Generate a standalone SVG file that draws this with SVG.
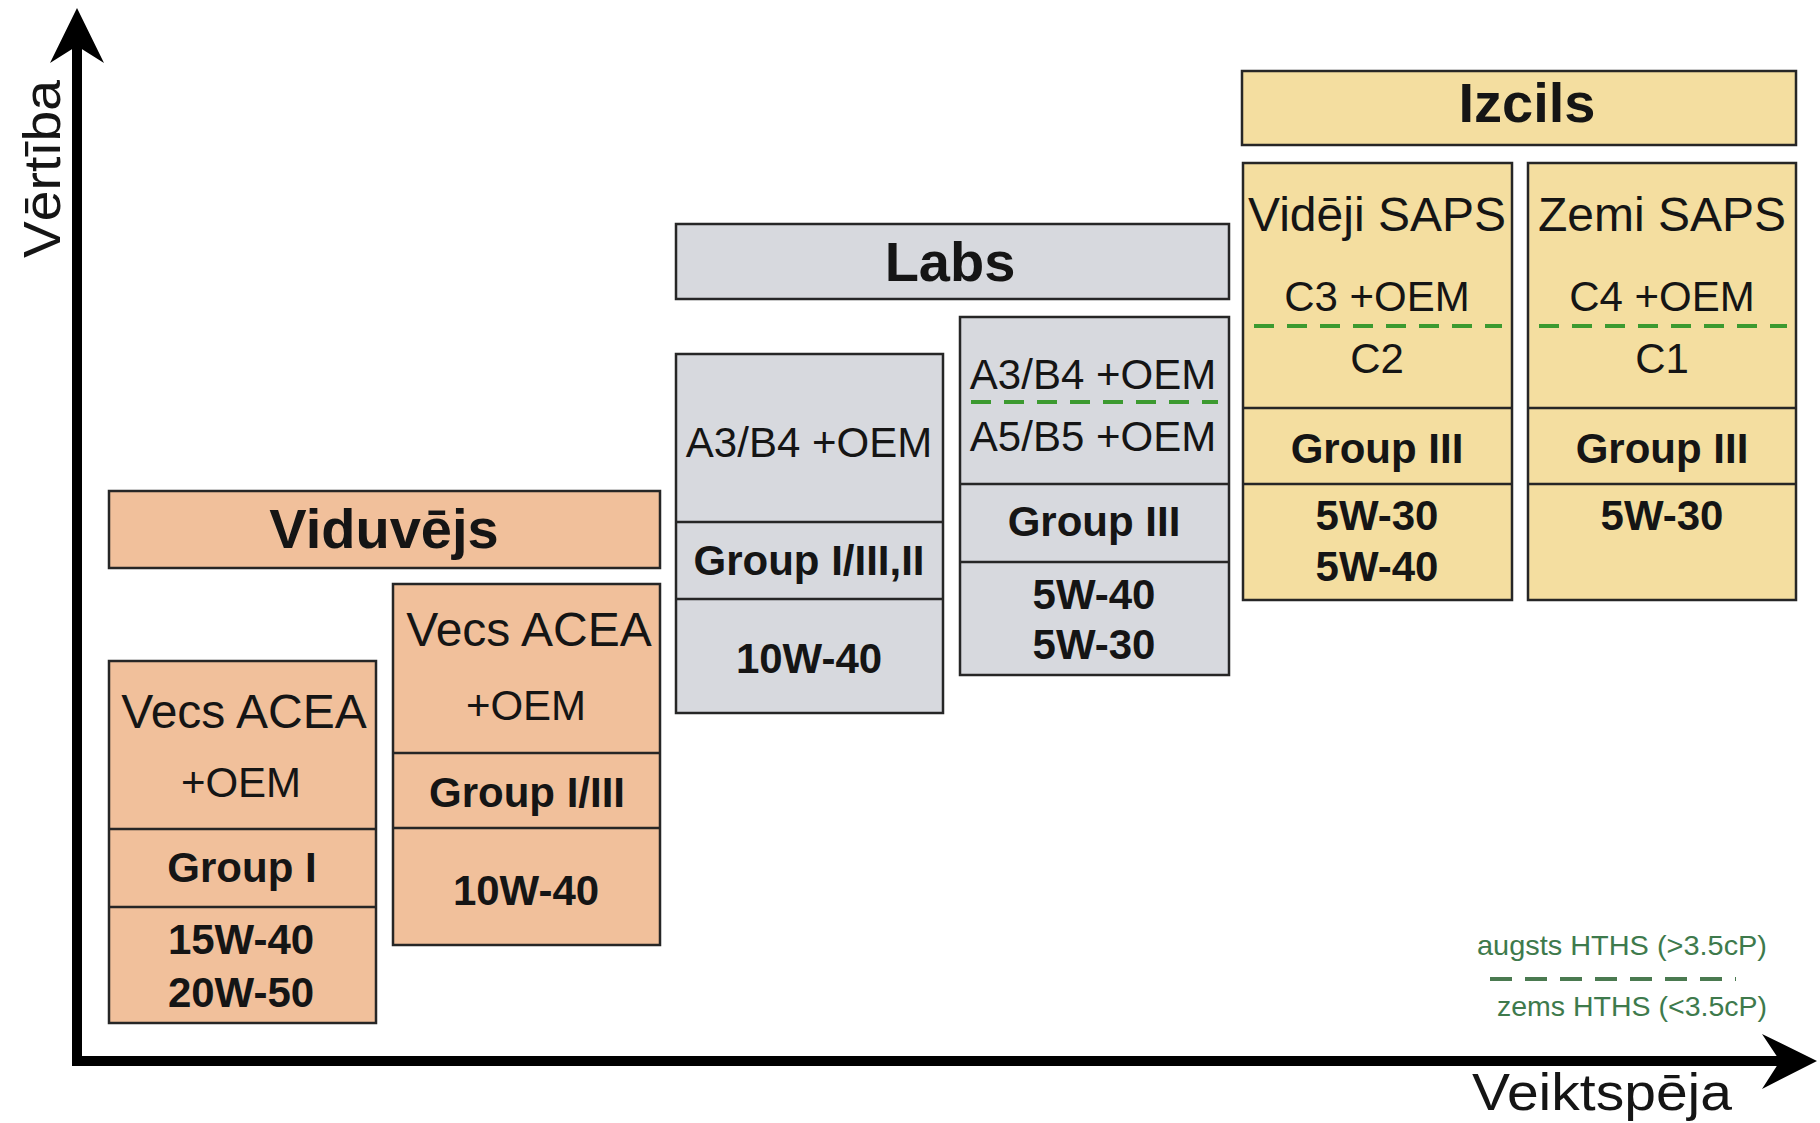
<svg xmlns="http://www.w3.org/2000/svg" width="1820" height="1123" viewBox="0 0 1820 1123">
<style>
.box{stroke:#262626;stroke-width:2.5}
.peach{fill:#F1C09B}
.gray{fill:#D7D9DE}
.yel{fill:#F4DEA0}
.div{stroke:#262626;stroke-width:2.5}
.hths{stroke:#3C9A30;stroke-width:4;stroke-dasharray:20 13}
text{font-family:"Liberation Sans",Arial,sans-serif;fill:#151515;text-anchor:middle}
.h{font-size:56px;font-weight:bold}
.big{font-size:48px}
.r{font-size:42px}
.b{font-size:42px;font-weight:bold}
.leg{font-size:28px;fill:#3E7A4C;text-anchor:start}
.ax{font-size:52px}
</style>
<rect width="1820" height="1123" fill="#ffffff"/>

<g id="axes">
  <line x1="77" y1="1066" x2="77" y2="40" stroke="#000" stroke-width="10"/>
  <polygon points="77,8 104,63 77,46 50,63" fill="#000"/>
  <line x1="72" y1="1061" x2="1785" y2="1061" stroke="#000" stroke-width="10"/>
  <polygon points="1817,1061 1762,1034 1780,1061 1762,1089" fill="#000"/>
  <text class="ax" transform="translate(60,169) rotate(-90)" textLength="178" lengthAdjust="spacingAndGlyphs">Vērtība</text>
  <text class="ax" x="1602" y="1110" textLength="260" lengthAdjust="spacingAndGlyphs">Veiktspēja</text>
</g>

<g id="viduvejs-header">
  <rect class="box peach" x="109" y="491" width="551" height="77"/>
  <text class="h" x="384" y="548">Viduvējs</text>
</g>

<g id="box-group1">
  <rect class="box peach" x="109" y="661" width="267" height="362"/>
  <line class="div" x1="109" y1="829" x2="376" y2="829"/>
  <line class="div" x1="109" y1="907" x2="376" y2="907"/>
  <text class="big" x="244" y="728">Vecs ACEA</text>
  <text class="r" x="241" y="797">+OEM</text>
  <text class="b" x="242" y="882">Group I</text>
  <text class="b" x="241" y="954">15W-40</text>
  <text class="b" x="241" y="1007">20W-50</text>
</g>

<g id="box-group13">
  <rect class="box peach" x="393" y="584" width="267" height="361"/>
  <line class="div" x1="393" y1="753" x2="660" y2="753"/>
  <line class="div" x1="393" y1="828" x2="660" y2="828"/>
  <text class="big" x="529" y="646">Vecs ACEA</text>
  <text class="r" x="526" y="720">+OEM</text>
  <text class="b" x="527" y="807">Group I/III</text>
  <text class="b" x="526" y="905">10W-40</text>
</g>

<g id="labs-header">
  <rect class="box gray" x="676" y="224" width="553" height="75"/>
  <text class="h" x="950" y="281">Labs</text>
</g>

<g id="box-a3b4">
  <rect class="box gray" x="676" y="354" width="267" height="359"/>
  <line class="div" x1="676" y1="522" x2="943" y2="522"/>
  <line class="div" x1="676" y1="599" x2="943" y2="599"/>
  <text class="r" x="809" y="457">A3/B4 +OEM</text>
  <text class="b" x="809" y="575">Group I/III,II</text>
  <text class="b" x="809" y="673">10W-40</text>
</g>

<g id="box-a5b5">
  <rect class="box gray" x="960" y="317" width="269" height="358"/>
  <line class="div" x1="960" y1="484" x2="1229" y2="484"/>
  <line class="div" x1="960" y1="562" x2="1229" y2="562"/>
  <text class="r" x="1093" y="389">A3/B4 +OEM</text>
  <line class="hths" x1="971" y1="402" x2="1218" y2="402"/>
  <text class="r" x="1093" y="451">A5/B5 +OEM</text>
  <text class="b" x="1094" y="536">Group III</text>
  <text class="b" x="1094" y="609">5W-40</text>
  <text class="b" x="1094" y="659">5W-30</text>
</g>

<g id="izcils-header">
  <rect class="box yel" x="1242" y="71" width="554" height="74"/>
  <text class="h" x="1527" y="122">Izcils</text>
</g>

<g id="box-videji">
  <rect class="box yel" x="1243" y="163" width="269" height="437"/>
  <line class="div" x1="1243" y1="408" x2="1512" y2="408"/>
  <line class="div" x1="1243" y1="484" x2="1512" y2="484"/>
  <text class="big" x="1377" y="231">Vidēji SAPS</text>
  <text class="r" x="1377" y="311">C3 +OEM</text>
  <line class="hths" x1="1254" y1="326" x2="1502" y2="326"/>
  <text class="r" x="1377" y="373">C2</text>
  <text class="b" x="1377" y="463">Group III</text>
  <text class="b" x="1377" y="530">5W-30</text>
  <text class="b" x="1377" y="581">5W-40</text>
</g>

<g id="box-zemi">
  <rect class="box yel" x="1528" y="163" width="268" height="437"/>
  <line class="div" x1="1528" y1="408" x2="1796" y2="408"/>
  <line class="div" x1="1528" y1="484" x2="1796" y2="484"/>
  <text class="big" x="1662" y="231">Zemi SAPS</text>
  <text class="r" x="1662" y="311">C4 +OEM</text>
  <line class="hths" x1="1539" y1="326" x2="1787" y2="326"/>
  <text class="r" x="1662" y="373">C1</text>
  <text class="b" x="1662" y="463">Group III</text>
  <text class="b" x="1662" y="530">5W-30</text>
</g>

<g id="legend">
  <text class="leg" x="1477" y="955" textLength="290" lengthAdjust="spacingAndGlyphs">augsts HTHS (&gt;3.5cP)</text>
  <line x1="1490" y1="979" x2="1736" y2="979" stroke="#4A7A50" stroke-width="4" stroke-dasharray="22 13"/>
  <text class="leg" x="1497" y="1016" textLength="270" lengthAdjust="spacingAndGlyphs">zems HTHS (&lt;3.5cP)</text>
</g>
</svg>
